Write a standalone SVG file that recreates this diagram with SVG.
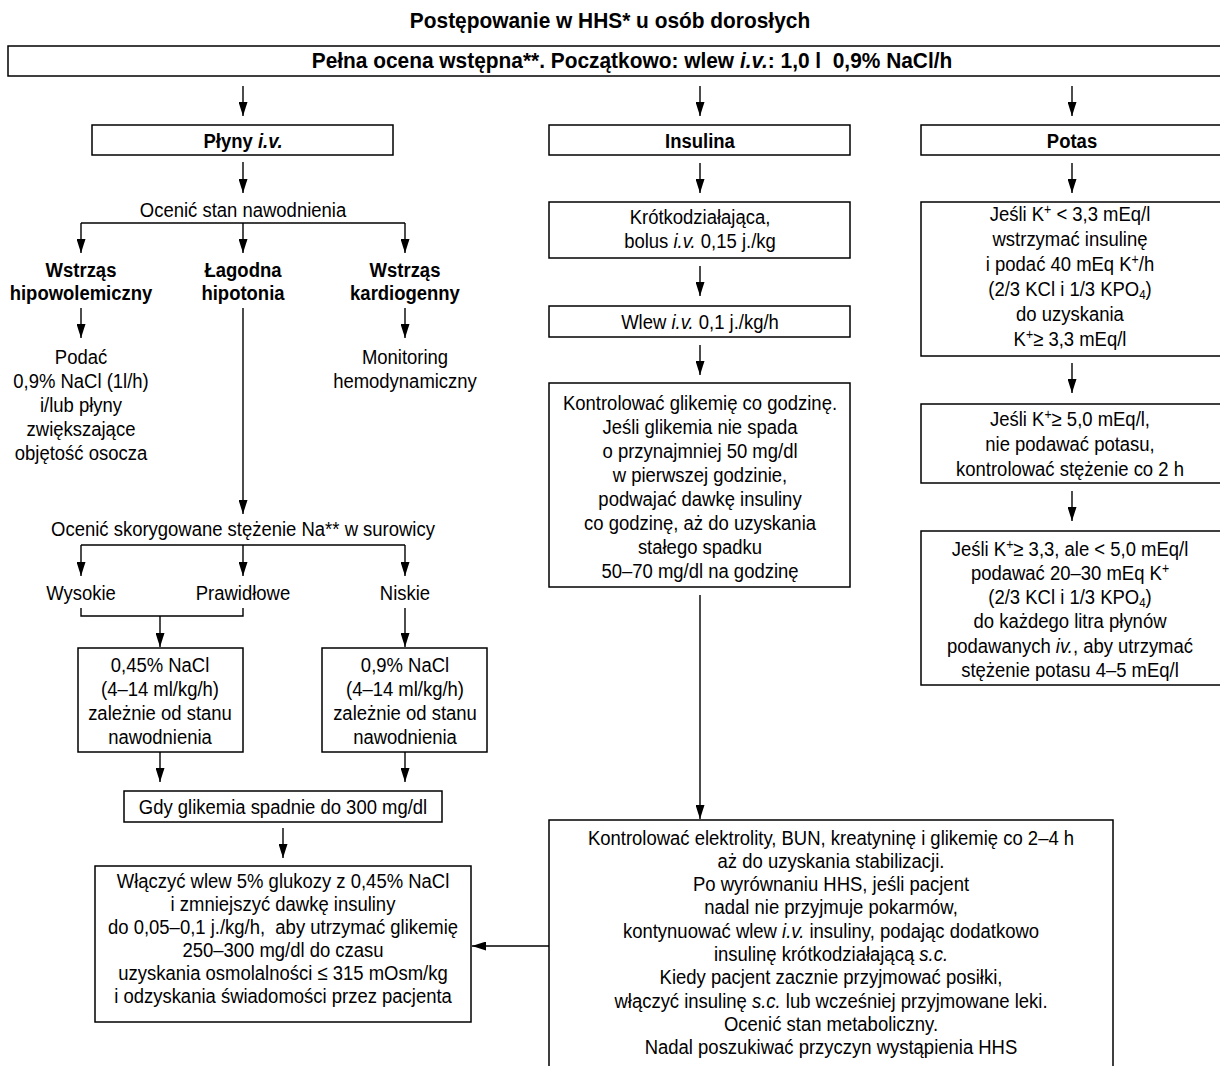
<svg xmlns="http://www.w3.org/2000/svg" width="1220" height="1066" viewBox="0 0 1220 1066">
<defs>
<style>
text{font-family:"Liberation Sans",Arial,sans-serif;font-size:21px;text-anchor:middle;fill:#000}
.b{font-weight:bold}
.h{font-size:22px}
.i{font-style:italic}
.sup{font-size:14px;baseline-shift:7px}
.sub{font-size:13px;baseline-shift:-3px}
.box{fill:#fff;stroke:#000;stroke-width:1.5}
.c{fill:none;stroke:#000;stroke-width:1.4}
.a{marker-end:url(#ah)}
</style>
<marker id="ah" markerUnits="userSpaceOnUse" markerWidth="15" markerHeight="9" refX="14" refY="4.5" orient="auto">
<path d="M0,0 L14,4.5 L0,9 z" fill="#000"/>
</marker>
</defs>
<rect width="1220" height="1066" fill="#fff"/>

<g id="title"><g transform="translate(610,0) scale(0.95,1)"><text class="b h" x="0" y="28">Postępowanie w HHS* u osób dorosłych</text></g></g>

<g id="n-start"><rect class="box" x="8" y="46" width="1220" height="30"/>
<g transform="translate(632,0) scale(0.95,1)"><text class="b h" x="0" y="68">Pełna ocena wstępna**. Początkowo: wlew <tspan class="i">i.v.</tspan>: 1,0 l&#160; 0,9% NaCl/h</text></g></g>

<g id="n-plyny"><rect class="box" x="92" y="125" width="301" height="30"/>
<g transform="translate(243,0) scale(0.88,1)"><text class="b" x="0" y="148">Płyny <tspan class="i">i.v.</tspan></text></g></g>
<g id="n-insulina"><rect class="box" x="549" y="125" width="301" height="30"/>
<g transform="translate(700,0) scale(0.88,1)"><text class="b" x="0" y="148">Insulina</text></g></g>
<g id="n-potas"><rect class="box" x="921" y="125" width="305" height="30"/>
<g transform="translate(1072,0) scale(0.88,1)"><text class="b" x="0" y="148">Potas</text></g></g>

<g id="n-ocenic1"><g transform="translate(243,0) scale(0.88,1)"><text x="0" y="217">Ocenić stan nawodnienia</text></g></g>

<g id="n-hipowol"><g transform="translate(81,0) scale(0.88,1)"><text class="b" x="0" y="277">Wstrząs</text><text class="b" x="0" y="300">hipowolemiczny</text></g></g>
<g id="n-lagodna"><g transform="translate(243,0) scale(0.88,1)"><text class="b" x="0" y="277">Łagodna</text><text class="b" x="0" y="300">hipotonia</text></g></g>
<g id="n-kardio"><g transform="translate(405,0) scale(0.88,1)"><text class="b" x="0" y="277">Wstrząs</text><text class="b" x="0" y="300">kardiogenny</text></g></g>

<g id="n-podac"><g transform="translate(81,0) scale(0.88,1)">
<text x="0" y="364">Podać</text><text x="0" y="388">0,9% NaCl (1l/h)</text><text x="0" y="412">i/lub płyny</text><text x="0" y="436">zwiększające</text><text x="0" y="460">objętość osocza</text></g></g>
<g id="n-monitoring"><g transform="translate(405,0) scale(0.88,1)">
<text x="0" y="364">Monitoring</text><text x="0" y="388">hemodynamiczny</text></g></g>

<g id="n-ocenic2"><g transform="translate(243,0) scale(0.88,1)"><text x="0" y="536">Ocenić skorygowane stężenie Na** w surowicy</text></g></g>
<g id="n-wysokie"><g transform="translate(81,0) scale(0.88,1)"><text x="0" y="600">Wysokie</text></g></g>
<g id="n-prawidlowe"><g transform="translate(243,0) scale(0.88,1)"><text x="0" y="600">Prawidłowe</text></g></g>
<g id="n-niskie"><g transform="translate(405,0) scale(0.88,1)"><text x="0" y="600">Niskie</text></g></g>

<g id="n-nacl045"><rect class="box" x="78" y="648" width="165" height="104"/>
<g transform="translate(160,0) scale(0.88,1)"><text x="0" y="672">0,45% NaCl</text><text x="0" y="696">(4–14 ml/kg/h)</text><text x="0" y="720">zależnie od stanu</text><text x="0" y="744">nawodnienia</text></g></g>
<g id="n-nacl09"><rect class="box" x="322" y="648" width="165" height="104"/>
<g transform="translate(405,0) scale(0.88,1)"><text x="0" y="672">0,9% NaCl</text><text x="0" y="696">(4–14 ml/kg/h)</text><text x="0" y="720">zależnie od stanu</text><text x="0" y="744">nawodnienia</text></g></g>

<g id="n-gdy"><rect class="box" x="124" y="791" width="318" height="31"/>
<g transform="translate(283,0) scale(0.88,1)"><text x="0" y="814">Gdy glikemia spadnie do 300 mg/dl</text></g></g>

<g id="n-wlaczyc"><rect class="box" x="95" y="866" width="376" height="156"/>
<g transform="translate(283,0) scale(0.88,1)">
<text x="0" y="888">Włączyć wlew 5% glukozy z 0,45% NaCl</text>
<text x="0" y="911">i zmniejszyć dawkę insuliny</text>
<text x="0" y="934">do 0,05–0,1 j./kg/h,&#160; aby utrzymać glikemię</text>
<text x="0" y="957">250–300 mg/dl do czasu</text>
<text x="0" y="980">uzyskania osmolalności ≤ 315 mOsm/kg</text>
<text x="0" y="1003">i odzyskania świadomości przez pacjenta</text></g></g>

<g id="n-krotko"><rect class="box" x="549" y="202" width="301" height="56"/>
<g transform="translate(700,0) scale(0.88,1)"><text x="0" y="224">Krótkodziałająca,</text><text x="0" y="248">bolus <tspan class="i">i.v.</tspan> 0,15 j./kg</text></g></g>
<g id="n-wlew"><rect class="box" x="549" y="306" width="301" height="31"/>
<g transform="translate(700,0) scale(0.88,1)"><text x="0" y="329">Wlew <tspan class="i">i.v.</tspan> 0,1 j./kg/h</text></g></g>
<g id="n-kontrol"><rect class="box" x="549" y="383" width="301" height="204"/>
<g transform="translate(700,0) scale(0.88,1)">
<text x="0" y="410">Kontrolować glikemię co godzinę.</text>
<text x="0" y="434">Jeśli glikemia nie spada</text>
<text x="0" y="458">o przynajmniej 50 mg/dl</text>
<text x="0" y="482">w pierwszej godzinie,</text>
<text x="0" y="506">podwajać dawkę insuliny</text>
<text x="0" y="530">co godzinę, aż do uzyskania</text>
<text x="0" y="554">stałego spadku</text>
<text x="0" y="578">50–70 mg/dl na godzinę</text></g></g>

<g id="n-elektrolity"><rect class="box" x="549" y="820" width="564" height="270"/>
<g transform="translate(831,0) scale(0.88,1)">
<text x="0" y="845">Kontrolować elektrolity, BUN, kreatyninę i glikemię co 2–4 h</text>
<text x="0" y="868">aż do uzyskania stabilizacji.</text>
<text x="0" y="891">Po wyrównaniu HHS, jeśli pacjent</text>
<text x="0" y="914">nadal nie przyjmuje pokarmów,</text>
<text x="0" y="938">kontynuować wlew <tspan class="i">i.v.</tspan> insuliny, podając dodatkowo</text>
<text x="0" y="961">insulinę krótkodziałającą <tspan class="i">s.c.</tspan></text>
<text x="0" y="984">Kiedy pacjent zacznie przyjmować posiłki,</text>
<text x="0" y="1008">włączyć insulinę <tspan class="i">s.c.</tspan> lub wcześniej przyjmowane leki.</text>
<text x="0" y="1031">Ocenić stan metaboliczny.</text>
<text x="0" y="1054">Nadal poszukiwać przyczyn wystąpienia HHS</text></g></g>

<g id="n-k1"><rect class="box" x="921" y="202" width="305" height="154"/>
<g transform="translate(1070,0) scale(0.88,1)">
<text x="0" y="221">Jeśli K<tspan class="sup">+</tspan><tspan dy="0"> &lt; 3,3 mEq/l</tspan></text>
<text x="0" y="246">wstrzymać insulinę</text>
<text x="0" y="271">i podać 40 mEq K<tspan class="sup">+</tspan><tspan>/h</tspan></text>
<text x="0" y="296">(2/3 KCl i 1/3 KPO<tspan class="sub">4</tspan><tspan>)</tspan></text>
<text x="0" y="321">do uzyskania</text>
<text x="0" y="346">K<tspan class="sup">+</tspan><tspan>≥ 3,3 mEq/l</tspan></text></g></g>
<g id="n-k2"><rect class="box" x="921" y="404" width="305" height="79"/>
<g transform="translate(1070,0) scale(0.88,1)">
<text x="0" y="426">Jeśli K<tspan class="sup">+</tspan><tspan>≥ 5,0 mEq/l,</tspan></text>
<text x="0" y="451">nie podawać potasu,</text>
<text x="0" y="476">kontrolować stężenie co 2 h</text></g></g>
<g id="n-k3"><rect class="box" x="921" y="531" width="305" height="154"/>
<g transform="translate(1070,0) scale(0.88,1)">
<text x="0" y="556">Jeśli K<tspan class="sup">+</tspan><tspan>≥ 3,3, ale &lt; 5,0 mEq/l</tspan></text>
<text x="0" y="580">podawać 20–30 mEq K<tspan class="sup">+</tspan></text>
<text x="0" y="604">(2/3 KCl i 1/3 KPO<tspan class="sub">4</tspan><tspan>)</tspan></text>
<text x="0" y="628">do każdego litra płynów</text>
<text x="0" y="653">podawanych <tspan class="i">iv.</tspan>, aby utrzymać</text>
<text x="0" y="677">stężenie potasu 4–5 mEq/l</text></g></g>

<g id="connectors">
<path class="c a" d="M243,86 V116"/>
<path class="c a" d="M700,86 V116"/>
<path class="c a" d="M1072,86 V116"/>
<path class="c a" d="M243,162 V193"/>
<path class="c a" d="M700,163 V193"/>
<path class="c a" d="M1072,163 V193"/>
<path class="c a" d="M81,223 V253"/>
<path class="c" d="M81,223 H405"/>
<path class="c a" d="M243,223 V253"/>
<path class="c a" d="M405,223 V253"/>
<path class="c a" d="M81,308 V338"/>
<path class="c a" d="M405,308 V338"/>
<path class="c a" d="M243,308 V514"/>
<path class="c" d="M81,545 H405"/>
<path class="c a" d="M81,545 V576"/>
<path class="c a" d="M243,545 V576"/>
<path class="c a" d="M405,545 V576"/>
<path class="c" d="M81,608 V616 H243 V608"/>
<path class="c a" d="M160,616 V647"/>
<path class="c a" d="M405,608 V647"/>
<path class="c a" d="M160,752 V782"/>
<path class="c a" d="M405,752 V782"/>
<path class="c a" d="M283,828 V858"/>
<path class="c a" d="M700,266 V296"/>
<path class="c a" d="M700,345 V375"/>
<path class="c a" d="M700,595 V819"/>
<path class="c a" d="M549,946 H472"/>
<path class="c a" d="M1072,363 V393"/>
<path class="c a" d="M1072,491 V521"/>
</g>
</svg>
